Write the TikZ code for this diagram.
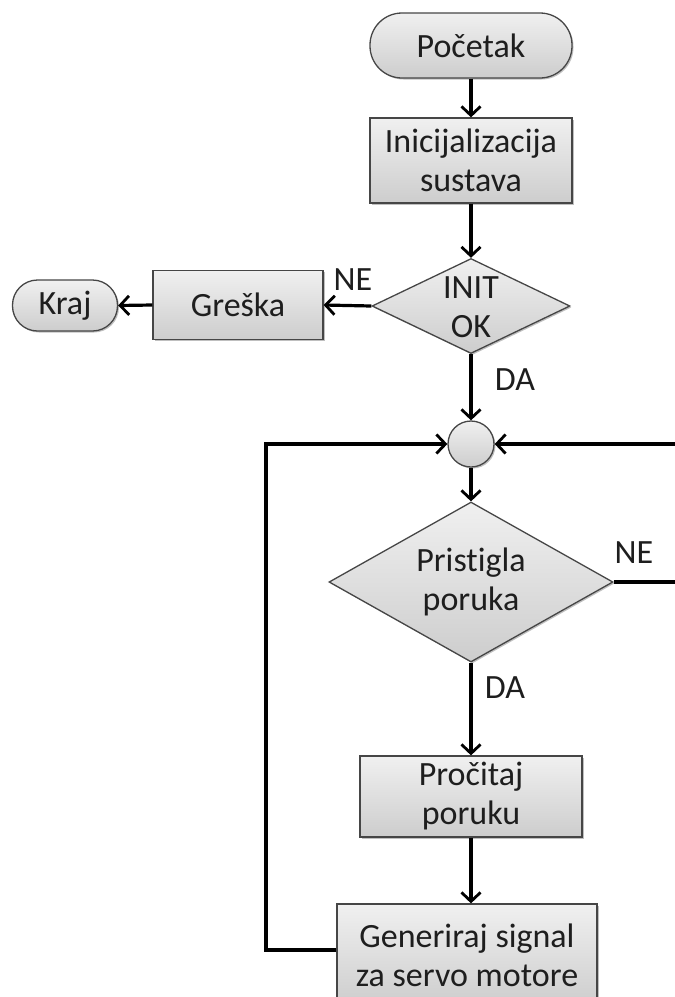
\documentclass[tikz,border=0pt]{standalone}
\usepackage{fontspec}
\setmainfont{Carlito}[Ligatures={NoCommon,NoRare}]
\usetikzlibrary{shapes.geometric,arrows.meta,shadows}
\definecolor{topg}{RGB}{240,240,240}
\definecolor{botg}{RGB}{205,205,205}
\definecolor{edge}{RGB}{70,70,70}
\definecolor{txt}{RGB}{30,30,30}
\tikzset{
  base/.style={draw=edge, line width=1.3pt, top color=topg, bottom color=botg,
    inner sep=0pt, align=center, text=txt,
    drop shadow={shadow xshift=1.5pt, shadow yshift=-1.5pt, opacity=0.25, fill=black}},
  termbox/.style={base, rectangle, rounded corners=#1},
  procbox/.style={base, rectangle},
  decbox/.style={base, diamond, aspect=2},
  joinbox/.style={base, circle},
  lbl/.style={text=txt, inner sep=0pt},
  conn/.style={line width=3.2pt, black, -{Straight Barb[length=9pt,width=19pt,line width=2.8pt]}},
}
\begin{document}
\begin{tikzpicture}[x=1pt,y=-1pt, font=\fontsize{34}{39}\selectfont]
\useasboundingbox (0,0) rectangle (675,997);
\clip (0,0) rectangle (675,997);
\node[termbox=32pt, minimum width=202pt, minimum height=65pt] (start) at (471,45.5) {Početak};
\node[procbox, minimum width=202pt, minimum height=85pt] (init) at (471,160.5) {Inicijalizacija\\sustava};
\node[decbox, minimum width=198pt, minimum height=95pt] (d1) at (471,306) {};
\node[lbl, align=center] (d1t) at (471,307) {INIT\\OK};
\node[procbox, minimum width=170pt, minimum height=69pt] (greska) at (238,305) {Greška};
\node[termbox=25pt, minimum width=105pt, minimum height=51pt] (kraj) at (65,305.5) {Kraj};
\node[joinbox, minimum size=46pt] (join) at (471,444) {};
\node[decbox, minimum width=284pt, minimum height=160pt] (d2) at (471,582) {};
\node[lbl, align=center] (d2t) at (471,582) {Pristigla\\poruka};
\node[procbox, minimum width=222pt, minimum height=81pt] (proc) at (471,796.5) {Pročitaj\\poruku};
\node[procbox, minimum width=260pt, minimum height=102pt] (gen) at (467,955) {Generiraj signal\\za servo motore};

\node[lbl] (ne1) at (353,280) {NE};
\node[lbl] (da1) at (515,380) {DA};
\node[lbl] (ne2) at (634,553) {NE};
\node[lbl] (da2) at (505,688) {DA};

\coordinate (r1) at (700,582);
\coordinate (r2) at (700,444);
\coordinate (l1) at (266,950);
\coordinate (l2) at (266,444);

\draw[conn] (start) -- (init);
\draw[conn] (init) -- (d1);
\draw[conn] (d1.west) -- (greska.east);
\draw[conn] (greska.west) -- (kraj.east);
\draw[conn] (d1.south) -- (join.north);
\draw[conn] (join.south) -- (d2.north);
\draw[conn] (d2.east) -- (r1) -- (r2) -- (join.east);
\draw[conn] (d2.south) -- (proc.north);
\draw[conn] (proc.south) -- (proc.south |- gen.north);
\draw[conn] ([yshift=5pt]gen.west) -- (l1) -- (l2) -- (join.west);
\end{tikzpicture}
\end{document}
